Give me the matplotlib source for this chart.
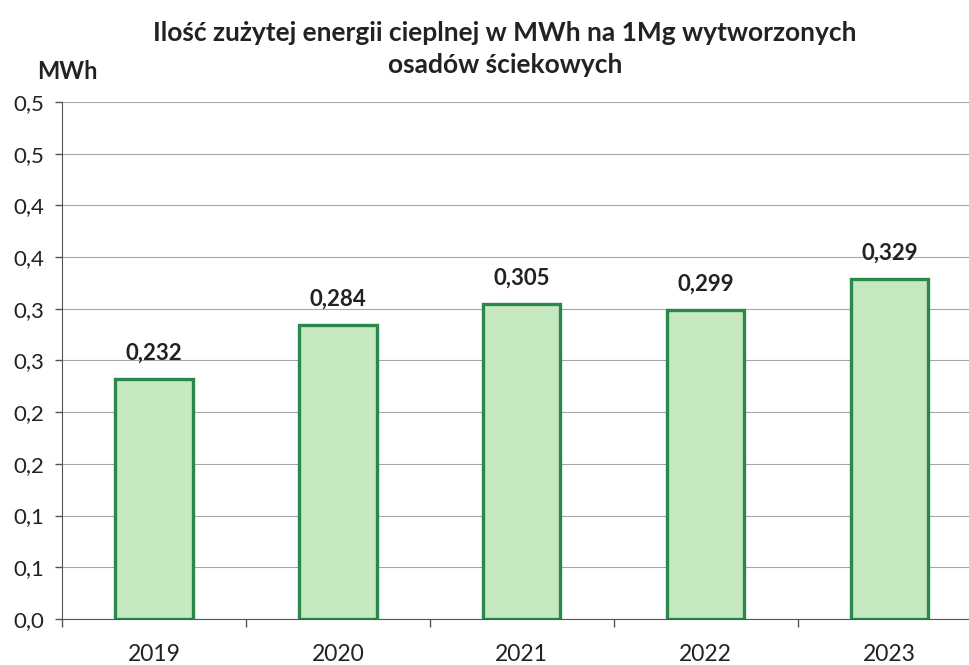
import matplotlib
matplotlib.use("Agg")
import matplotlib.pyplot as plt
from matplotlib.ticker import FixedLocator

plt.rcParams['font.family'] = ['Lato', 'DejaVu Sans']

years = ["2019", "2020", "2021", "2022", "2023"]
values = [0.232, 0.284, 0.305, 0.299, 0.329]
value_labels = ["0,232", "0,284", "0,305", "0,299", "0,329"]
yticks = [0.0, 0.05, 0.10, 0.15, 0.20, 0.25, 0.30, 0.35, 0.40, 0.45, 0.50]
ytick_labels = ["0,0", "0,1", "0,1", "0,2", "0,2", "0,3", "0,3", "0,4", "0,4", "0,5", "0,5"]

title = "Ilość zużytej energii cieplnej w MWh na 1Mg wytworzonych\nosadów ściekowych"

fig = plt.figure(figsize=(9.69, 6.65), dpi=100)
ax = fig.add_axes([0.064, 0.0692, 0.949, 0.7774])

x = list(range(len(years)))
ax.bar(x, values, width=0.42, color="#c6e9c2", edgecolor="#2b874c",
       linewidth=2.4, zorder=3)

for xi, v, lab in zip(x, values, value_labels):
    ax.annotate(lab, (xi, v), xytext=(0, 11), textcoords="offset points",
                ha="center", va="bottom", fontsize=16, fontweight="bold",
                color="#222222")

ax.set_xlim(-0.5, 4.5)
ax.set_ylim(0, 0.5)
ax.set_yticks(yticks)
ax.set_yticklabels(ytick_labels)
ax.set_xticks(x)
ax.set_xticklabels(years)
ax.xaxis.set_minor_locator(FixedLocator([i + 0.5 for i in range(-1, 5)]))

ax.tick_params(axis="x", which="major", length=0, pad=18, labelsize=16.5,
               colors="#222222")
ax.tick_params(axis="x", which="minor", length=6, width=1, color="#555555",
               direction="out")
ax.tick_params(axis="y", length=5, width=1, color="#555555", labelsize=16,
               pad=8, labelcolor="#222222")

ax.grid(axis="y", color="#a8a8a8", linewidth=0.8, zorder=0)
ax.set_axisbelow(True)
for side in ["top", "right"]:
    ax.spines[side].set_visible(False)
ax.spines["left"].set_color("#555555")
ax.spines["bottom"].set_color("#555555")

fig.text(0.521, 0.968, title, ha="center", va="top", fontsize=19,
         fontweight="bold", color="#222222", linespacing=1.41)
fig.text(0.038, 0.893, "MWh", ha="left", va="center", fontsize=17,
         fontweight="bold", color="#222222")

fig.savefig("out.png", dpi=100)
